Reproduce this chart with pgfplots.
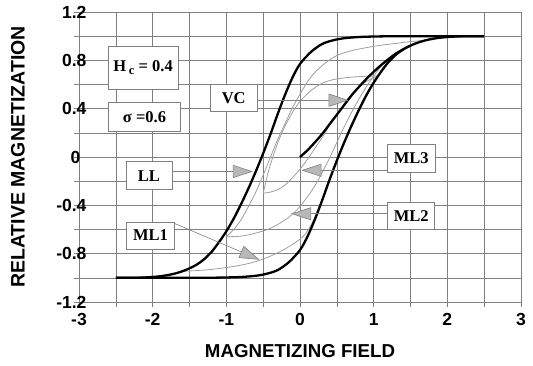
\documentclass[border=0pt]{standalone}
\usepackage{fontspec}
\setmainfont{Liberation Sans}
\newfontfamily\boxfont{Liberation Serif}
\usepackage{pgfplots}
\pgfplotsset{compat=1.18}
\usetikzlibrary{arrows.meta}

\definecolor{gridgray}{gray}{0.5}
\definecolor{thingray}{gray}{0.62}
\definecolor{headgray}{gray}{0.72}

\tikzset{
  lbox/.style={draw=gridgray, line width=0.6pt, fill=white, inner sep=0pt,
    font=\boxfont\bfseries\fontsize{16.5}{18}\selectfont},
  pointer/.style={draw=gridgray, line width=0.6pt,
    -{Triangle[length=20pt, width=13pt, fill=headgray]}},
}

\begin{document}
\begin{tikzpicture}
\begin{axis}[
  scale only axis, width=442pt, height=290pt,
  xmin=-3, xmax=3, ymin=-1.2, ymax=1.2,
  xtick={-3,-2,-1,0,1,2,3},
  minor xtick={-2.5,-1.5,-0.5,0.5,1.5,2.5},
  ytick={-1.2,-0.8,-0.4,0,0.4,0.8,1.2},
  yticklabels={-1.2,-0.8,-0.4,0\hspace*{6pt},0.4,0.8,1.2},
  minor ytick={-1,-0.6,-0.2,0.2,0.6,1},
  grid=both,
  major grid style={gridgray, line width=0.6pt},
  minor grid style={gridgray, line width=0.6pt},
  axis line style={gridgray, line width=0.6pt},
  tick align=outside, tick pos=left,
  major tick length=5pt, minor tick length=5pt,
  every tick/.style={gridgray, line width=0.6pt},
  ticklabel style={font=\bfseries\fontsize{17.5}{19}\selectfont},
  /pgf/number format/assume math mode=true,
  yticklabel style={anchor=east, xshift=16pt},
  xticklabel style={yshift=-3pt},
  xlabel={MAGNETIZING FIELD},
  ylabel={RELATIVE MAGNETIZATION},
  x label style={font=\bfseries\fontsize{18.7}{20}\selectfont,
    at={(axis description cs:0.5,0)}, anchor=center, yshift=-49pt},
  y label style={font=\bfseries\fontsize{19.5}{21}\selectfont,
    at={(axis description cs:-0.138,0.5)}, anchor=center},
  clip=false,
]

% minor loop ML1: ascending branch from the lower limb
\addplot[thingray, line width=0.8pt, smooth] coordinates {
  (-1.6,-0.946) (-1.4,-0.94) (-1.2,-0.93) (-1.0,-0.915) (-0.8,-0.895)
  (-0.6,-0.865) (-0.4,-0.82) (-0.2,-0.76) (0.0,-0.68) (0.1,-0.615)
  (0.2,-0.5) (0.3,-0.35) (0.4,-0.18) (0.5,-0.02) (0.6,0.13) (0.7,0.27)
  (0.8,0.4) (0.9,0.52) (1.0,0.625) (1.2,0.795) (1.4,0.895) (1.7,0.967)
  (2.0,0.994) (2.2,1.0)};

% minor loop ML2
\addplot[thingray, line width=0.8pt, smooth] coordinates {
  (1.7,0.965) (1.5,0.955) (1.3,0.94) (1.1,0.925) (0.9,0.905) (0.7,0.88)
  (0.5,0.84) (0.35,0.78) (0.2,0.7) (0.1,0.62) (0.0,0.52) (-0.1,0.41)
  (-0.2,0.28) (-0.3,0.15) (-0.4,0.0) (-0.5,-0.15) (-0.6,-0.29)
  (-0.7,-0.41) (-0.8,-0.52) (-0.9,-0.6) (-1.0,-0.66)};
\addplot[thingray, line width=0.8pt, smooth] coordinates {
  (-1.0,-0.66) (-0.8,-0.655) (-0.6,-0.63) (-0.4,-0.59) (-0.2,-0.52)
  (-0.1,-0.47) (0.0,-0.41) (0.1,-0.33) (0.2,-0.24) (0.3,-0.13)
  (0.4,-0.01) (0.5,0.12) (0.6,0.25) (0.7,0.37) (0.8,0.48) (0.9,0.58)
  (1.0,0.67) (1.1,0.75) (1.2,0.81) (1.35,0.88) (1.5,0.93) (1.7,0.965)};

% minor loop ML3
\addplot[thingray, line width=0.8pt, smooth] coordinates {
  (1.05,0.67) (0.9,0.668) (0.75,0.663) (0.6,0.655) (0.45,0.64)
  (0.3,0.61) (0.15,0.55) (0.0,0.46) (-0.1,0.37) (-0.2,0.26)
  (-0.3,0.12) (-0.4,-0.06) (-0.45,-0.17) (-0.5,-0.3)};
\addplot[thingray, line width=0.8pt, smooth] coordinates {
  (-0.5,-0.3) (-0.4,-0.29) (-0.3,-0.27) (-0.2,-0.23) (-0.1,-0.17)
  (0.0,-0.1) (0.1,-0.02) (0.2,0.07) (0.3,0.16) (0.4,0.26) (0.5,0.35)
  (0.6,0.44) (0.7,0.52) (0.8,0.58) (0.9,0.625) (1.05,0.67)};

% limiting loop, ascending branch
\addplot[black, line width=2.3pt, smooth, line join=round] coordinates {
  (-2.5,-1.0) (-2.0,-1.0) (-1.5,-1.0) (-1.2,-0.999) (-1.0,-0.997)
  (-0.8,-0.993) (-0.6,-0.983) (-0.45,-0.966) (-0.3,-0.935) (-0.15,-0.87)
  (0.0,-0.77) (0.1,-0.66) (0.2,-0.52) (0.3,-0.36) (0.4,-0.19) (0.5,-0.03)
  (0.6,0.12) (0.7,0.26) (0.8,0.39) (0.9,0.51) (1.0,0.615) (1.1,0.705)
  (1.2,0.785) (1.3,0.845) (1.4,0.89) (1.55,0.935) (1.7,0.965)
  (1.85,0.983) (2.0,0.993) (2.2,0.999) (2.5,1.0)};

% limiting loop, descending branch
\addplot[black, line width=2.3pt, smooth, line join=round] coordinates {
  (2.5,1.0) (2.0,1.0) (1.5,1.0) (1.2,0.999) (1.0,0.997)
  (0.8,0.993) (0.6,0.983) (0.45,0.966) (0.3,0.935) (0.15,0.87)
  (0.0,0.77) (-0.1,0.66) (-0.2,0.52) (-0.3,0.36) (-0.4,0.19) (-0.5,0.03)
  (-0.6,-0.12) (-0.7,-0.26) (-0.8,-0.39) (-0.9,-0.51) (-1.0,-0.615)
  (-1.1,-0.705) (-1.2,-0.785) (-1.3,-0.845) (-1.4,-0.89) (-1.55,-0.935)
  (-1.7,-0.965) (-1.85,-0.983) (-2.0,-0.993) (-2.2,-0.999) (-2.5,-1.0)};

% virgin curve
\addplot[black, line width=2.3pt, smooth, line join=round] coordinates {
  (0,0) (0.1,0.055) (0.2,0.12) (0.3,0.19) (0.4,0.27) (0.5,0.35)
  (0.6,0.43) (0.7,0.51) (0.8,0.58) (0.9,0.645) (1.0,0.705) (1.1,0.76)
  (1.2,0.81) (1.3,0.855) (1.4,0.89)};

% pointers
\draw[pointer] (axis cs:-0.9,0.47) -- (axis cs:0.66,0.47);
\draw[pointer] (axis cs:-2.05,-0.12) -- (axis cs:-0.64,-0.12);
\draw[pointer] (axis cs:-1.74,-0.54) -- (axis cs:-0.55,-0.85);
\draw[pointer] (axis cs:1.5,-0.11) -- (axis cs:0.02,-0.11);
\draw[pointer] (axis cs:1.5,-0.47) -- (axis cs:-0.12,-0.47);

% labels
\node[lbox, minimum width=70pt, minimum height=43pt] at (axis cs:-2.13,0.74)
  {H\,\raisebox{-0.35ex}{\fontsize{12.5}{12.5}\selectfont c} = 0.4};
\node[lbox, minimum width=72pt, minimum height=29pt] at (axis cs:-2.11,0.33)
  {σ =0.6};
\node[lbox, minimum width=47pt, minimum height=27pt] at (axis cs:-0.9,0.49) {VC};
\node[lbox, minimum width=46pt, minimum height=28pt] at (axis cs:-2.05,-0.155) {LL};
\node[lbox, minimum width=48pt, minimum height=27pt] at (axis cs:-2.03,-0.65) {ML1};
\node[lbox, minimum width=48pt, minimum height=28pt] at (axis cs:1.51,-0.01) {ML3};
\node[lbox, minimum width=47pt, minimum height=27pt] at (axis cs:1.51,-0.49) {ML2};
\end{axis}
\pgfresetboundingbox
\path[use as bounding box] (-79pt,-64pt) rectangle (454pt,302pt);
\end{tikzpicture}
\end{document}
